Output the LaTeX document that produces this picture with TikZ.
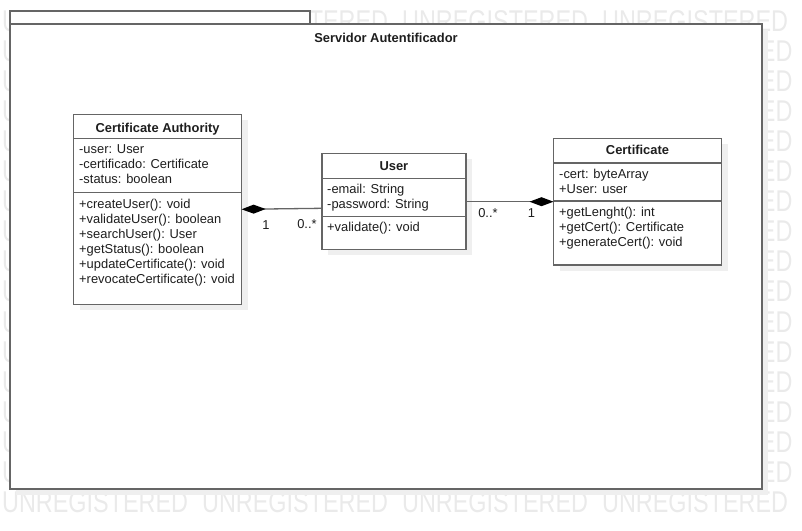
\documentclass[tikz,border=0pt]{standalone}
\usepackage{fontspec}
\setmainfont{Liberation Sans}
\usepackage{xcolor}
\usetikzlibrary{arrows.meta,shadows}

\definecolor{umlborder}{HTML}{656565}
\definecolor{umlshadow}{HTML}{EFEFEF}
\definecolor{umltext}{HTML}{1E1E1E}
\definecolor{wmgray}{HTML}{EAEAEA}

\tikzset{
  umlfont/.style={font=\fontsize{12.9}{15}\selectfont},
  classbox/.style={draw=umlborder, line width=1.6pt, fill=white, outer sep=0pt,
    inner sep=0pt, drop shadow={shadow xshift=6.5pt, shadow yshift=-5.5pt,
    fill=umlshadow, opacity=1}},
  pkgbox/.style={draw=umlborder, line width=1.6pt, fill=white, outer sep=0pt, inner sep=0pt},
  divider/.style={draw=umlborder, line width=1.6pt},
  classname/.style={umlfont, font=\fontsize{12.9}{15}\selectfont\bfseries,
    text=umltext, anchor=base, inner sep=0pt},
  member/.style={umlfont, text=umltext, anchor=base west, inner sep=0pt},
  mult/.style={umlfont, text=umltext, inner sep=0pt},
  assoc/.style={draw=umlborder, line width=1.3pt},
  compdiamond/.tip={Diamond[length=24pt, width=9pt, color=black]},
  watermark/.style={anchor=base west, inner sep=0pt, text=wmgray, xscale=0.78,
    font=\fontsize{30}{30}\selectfont}
}

\begin{document}
\begin{tikzpicture}[x=1pt, y=-1pt]
  \useasboundingbox (0,0) rectangle (802,530);

  % watermark: full rows at top and bottom, only the edges show in between
  \foreach \r in {0,16}
    \foreach \c in {0,...,3}
      \node[watermark] (wm-\r-\c) at (2+200*\c, 31+30.1*\r) {UNREGISTERED};
  \foreach \r in {1,...,15} {
    \node[watermark] (wm-\r-left) at (2, 31+30.1*\r) {U};
    \node[watermark, anchor=base east] (wm-\r-right) at (792.6, 31+30.1*\r) {ED};
  }

  % package
  \node[pkgbox, minimum width=300pt, minimum height=13pt] (pkg-tab) at (160,17.5) {};
  \node[pkgbox, minimum width=752pt, minimum height=465pt,
        drop shadow={shadow xshift=6pt, shadow yshift=-6pt, fill=umlshadow, opacity=1}]
        (pkg) at (386,256.5) {};
  \node[classname] (pkg-name) at (386,42) {Servidor Autentificador};

  % classes
  \node[classbox, minimum width=168pt, minimum height=190pt] (ca) at (157.6,209.3) {};
  \node[classbox, minimum width=144pt, minimum height=96pt] (user) at (393.9,201.3) {};
  \node[classbox, minimum width=168pt, minimum height=126.7pt] (cert) at (637.5,201.7) {};

  \draw[divider] ([yshift=-24pt]ca.north west) -- ([yshift=-24pt]ca.north east);
  \draw[divider] ([yshift=-78pt]ca.north west) -- ([yshift=-78pt]ca.north east);
  \draw[divider] ([yshift=-25pt]user.north west) -- ([yshift=-25pt]user.north east);
  \draw[divider] ([yshift=-63pt]user.north west) -- ([yshift=-63pt]user.north east);
  \draw[divider] ([yshift=-24.4pt]cert.north west) -- ([yshift=-24.4pt]cert.north east);
  \draw[divider] ([yshift=-62.4pt]cert.north west) -- ([yshift=-62.4pt]cert.north east);

  \node[classname] (ca-name) at ([yshift=-18pt]ca.north) {Certificate Authority};
  \node[classname] (user-name) at ([yshift=-17.5pt]user.north) {User};
  \node[classname] (cert-name) at ([yshift=-16.5pt]cert.north) {Certificate};

  \foreach \txt [count=\i] in {-user: User, -certificado: Certificate, -status: boolean}
    \node[member] (ca-attr-\i) at (79, 138+15*\i) {\txt};
  \foreach \txt [count=\i] in {+createUser(): void, +validateUser(): boolean,
      +searchUser(): User, +getStatus(): boolean, +updateCertificate(): void,
      +revocateCertificate(): void}
    \node[member] (ca-op-\i) at (79, 193+15*\i) {\txt};

  \foreach \txt [count=\i] in {-email: String, -password: String}
    \node[member] (user-attr-\i) at (327, 178+15*\i) {\txt};
  \node[member] (user-op-1) at (327, 231) {+validate(): void};

  \foreach \txt [count=\i] in {-cert: byteArray, +User: user}
    \node[member] (cert-attr-\i) at (559, 163+15*\i) {\txt};
  \foreach \txt [count=\i] in {+getLenght(): int, +getCert(): Certificate,
      +generateCert(): void}
    \node[member] (cert-op-\i) at (559, 201+15*\i) {\txt};

  % compositions
  \draw[assoc, {compdiamond}-] (ca.east) -- ([yshift=-7pt]user.west);
  \draw[assoc, -{compdiamond}] (cert.west -| user.east) -- (cert.west);

  \node[mult] (ca-mult) at (266,225) {1};
  \node[mult] (user-mult-ca) at (307,224) {0..*};
  \node[mult] (user-mult-cert) at (488,213) {0..*};
  \node[mult] (cert-mult) at (531.5,213) {1};
\end{tikzpicture}
\end{document}
